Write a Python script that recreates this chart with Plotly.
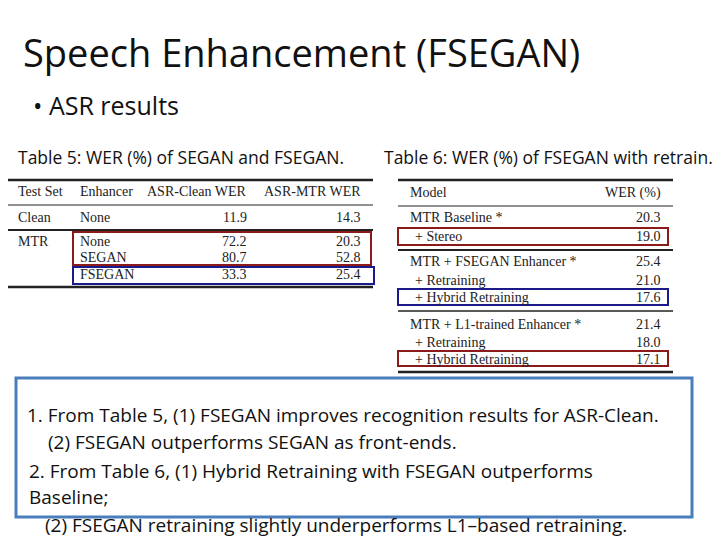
import plotly.graph_objects as go

W, H = 720, 540
t5_header = ["Test Set", "Enhancer", "ASR-Clean WER", "ASR-MTR WER"]
t5_testset = ["Clean", "MTR", "", ""]
t5_enhancer = ["None", "None", "SEGAN", "FSEGAN"]
t5_clean_wer = [11.9, 72.2, 80.7, 33.3]
t5_mtr_wer = [14.3, 20.3, 52.8, 25.4]

t6_header = ["Model", "WER (%)"]
t6_models = ["MTR Baseline *", "+ Stereo", "MTR + FSEGAN Enhancer *", "+ Retraining",
             "+ Hybrid Retraining", "MTR + L1-trained Enhancer *", "+ Retraining", "+ Hybrid Retraining"]
t6_wer = [20.3, 19.0, 25.4, 21.0, 17.6, 21.4, 18.0, 17.1]

notes = [
    "1. From Table 5, (1) FSEGAN improves recognition results for ASR-Clean.",
    "(2) FSEGAN outperforms SEGAN as front-ends.",
    "2. From Table 6, (1) Hybrid Retraining with FSEGAN outperforms",
    "Baseline;",
    "(2) FSEGAN retraining slightly underperforms L1–based retraining.",
]

fig = go.Figure()
ann, shp = [], []
DX, DY = -7, -8
def X(p): return (p + DX) / W
def Y(p): return 1 - (p + DY) / H
def txt(x, y, s, size, anchor="left", font="Liberation Sans", color="#222"):
    ann.append(dict(x=X(x), y=Y(y), xref="paper", yref="paper", text=s, showarrow=False,
                    xanchor=anchor, yanchor="middle", font=dict(size=size, family=font, color=color)))
def line(x0, x1, y, w):
    shp.append(dict(type="line", xref="paper", yref="paper", x0=X(x0), x1=X(x1), y0=Y(y), y1=Y(y),
                    line=dict(color="#222", width=w)))
def box(x0, x1, y0, y1, c, w=2):
    shp.append(dict(type="rect", xref="paper", yref="paper", x0=X(x0), x1=X(x1), y0=Y(y0), y1=Y(y1),
                    line=dict(color=c, width=w)))

txt(20, 52, "Speech Enhancement (FSEGAN)", 38, font="Open Sans", color="#111")
txt(30, 105, "• ASR results", 25, font="Open Sans", color="#111")
txt(15, 157, "Table 5: WER (%) of SEGAN and FSEGAN.", 17.5, font="Open Sans", color="#111")
txt(381, 157, "Table 6: WER (%) of FSEGAN with retrain.", 17.5, font="Open Sans", color="#111")

sf, fs = "Liberation Serif", 14
# Table 5
rows5 = [217, 241, 257, 274]
txt(15, 191, t5_header[0], fs, font=sf); txt(77, 191, t5_header[1], fs, font=sf)
txt(248, 191, t5_header[2], fs, "right", sf); txt(362, 191, t5_header[3], fs, "right", sf)
for i, y in enumerate(rows5):
    txt(15, y, t5_testset[i], fs, font=sf)
    txt(77, y, t5_enhancer[i], fs, font=sf)
    txt(248, y, f"{t5_clean_wer[i]:.1f}", fs, "right", sf)
    txt(362, y, f"{t5_mtr_wer[i]:.1f}", fs, "right", sf)
line(5, 372, 180, 2.5); line(5, 372, 205, 1); line(5, 372, 230, 2); line(5, 372, 287, 2.5)
box(72, 370, 232, 265, "#8b1a1a"); box(72, 373, 267, 284, "#1a1a8b")

# Table 6
rows6 = [218, 236, 262, 280, 297, 324, 342, 359]
txt(407, 193, t6_header[0], fs, font=sf); txt(662, 193, t6_header[1], fs, "right", sf)
for i, y in enumerate(rows6):
    name = t6_models[i]
    txt(407 + (5 if name.startswith("+") else 0), y, name, fs, font=sf)
    txt(662, y, f"{t6_wer[i]:.1f}", fs, "right", sf)
line(397, 672, 180, 2.5); line(397, 672, 206, 1); line(397, 672, 250, 2)
line(397, 672, 311, 1.5); line(397, 672, 372, 2.5)
box(397, 667, 228, 245, "#8b1a1a"); box(397, 667, 289, 305, "#1a1a8b"); box(397, 667, 351, 366, "#8b1a1a")

# Notes box
shp.append(dict(type="rect", xref="paper", yref="paper", x0=X(15), x1=X(691), y0=Y(378), y1=Y(517),
                line=dict(color="#4a7ebb", width=3), fillcolor="white", layer="below"))
for (x, y), s in zip([(24, 415), (45, 442), (26, 471), (26, 497), (42, 525)], notes):
    txt(x, y, s, 19, font="Open Sans", color="#111")

fig.update_layout(width=W, height=H, margin=dict(l=0, r=0, t=0, b=0), plot_bgcolor="white",
                  paper_bgcolor="white", annotations=ann, shapes=shp,
                  xaxis=dict(visible=False), yaxis=dict(visible=False))
fig.write_html("out.html")
